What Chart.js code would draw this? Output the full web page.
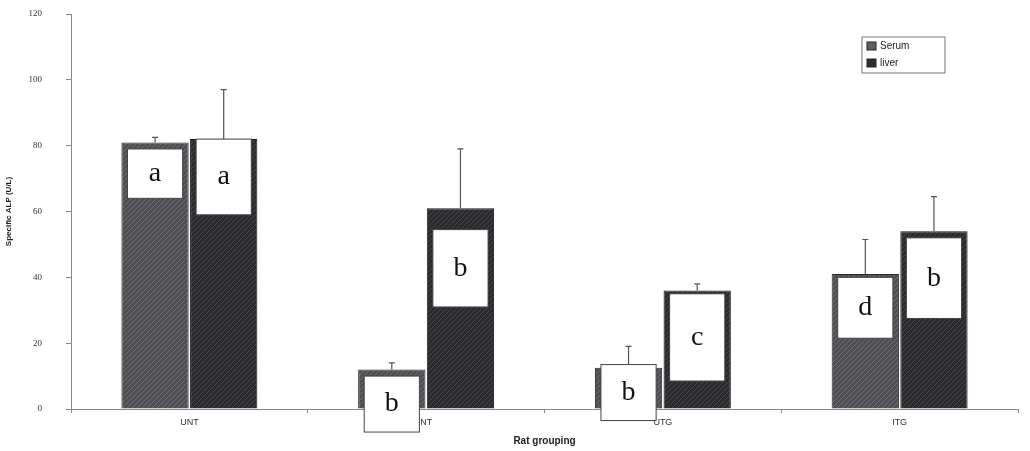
<!DOCTYPE html>
<html>
<head>
<meta charset="utf-8">
<script src="https://cdn.jsdelivr.net/npm/chart.js@4.4.1/dist/chart.umd.min.js"></script>
<style>
  html, body { margin: 0; padding: 0; background: #fff; }
  #wrap { width: 1030px; height: 451px; position: relative; }
</style>
</head>
<body>
<div id="wrap"><canvas id="ratChart"></canvas></div>
<script>
// Datos
const groups = ['UNT', 'NT', 'UTG', 'ITG'];
const serumValues = [81, 12, 12.5, 41];
const liverValues = [82, 61, 36, 54];
const serumErrors = [1.5, 2, 6.5, 10.5];
const liverErrors = [15, 18, 2, 10.5];
const yTicks = [0, 20, 40, 60, 80, 100, 120];

// Letras de significancia y su rango en unidades del eje
const serumLetters = ['a', 'b', 'b', 'd'];
const liverLetters = ['a', 'b', 'c', 'b'];
const serumBoxTop = [79, 10, 13.5, 40];
const serumBoxBottom = [64, -7, -3.5, 21.5];
const liverBoxTop = [82, 54.5, 35, 52];
const liverBoxBottom = [59, 31, 8.5, 27.5];

// textura rayada para imitar el escaneo
const makePattern = (base, streak) => {
    const c = document.createElement('canvas');
    c.width = 5; c.height = 5;
    const g = c.getContext('2d');
    g.fillStyle = base;
    g.fillRect(0, 0, 5, 5);
    g.strokeStyle = streak;
    g.lineWidth = 1;
    g.beginPath();
    g.moveTo(0, 5); g.lineTo(5, 0);
    g.stroke();
    return g.createPattern(c, 'repeat');
};
const serumFill = makePattern('#4e4e53', '#6e6e74');
const liverFill = makePattern('#2b2b2f', '#46464b');

const errorBarsPlugin = {
    id: 'errorBars',
    afterDatasetsDraw(chart) {
        const { ctx } = chart;
        const y = chart.scales.y;
        const errs = [serumErrors, liverErrors];
        chart.data.datasets.forEach((ds, i) => {
            chart.getDatasetMeta(i).data.forEach((bar, j) => {
                const top = y.getPixelForValue(ds.data[j] + errs[i][j]);
                ctx.save();
                ctx.strokeStyle = '#555';
                ctx.lineWidth = 1.2;
                ctx.beginPath();
                ctx.moveTo(bar.x, bar.y);
                ctx.lineTo(bar.x, top);
                ctx.moveTo(bar.x - 3, top);
                ctx.lineTo(bar.x + 3, top);
                ctx.stroke();
                ctx.restore();
            });
        });
    },
};

const letterBoxPlugin = {
    id: 'letterBoxes',
    afterDatasetsDraw(chart) {
        const { ctx } = chart;
        const y = chart.scales.y;
        const sets = [
            [serumLetters, serumBoxTop, serumBoxBottom],
            [liverLetters, liverBoxTop, liverBoxBottom],
        ];
        sets.forEach(([letters, tops, bottoms], i) => {
            chart.getDatasetMeta(i).data.forEach((bar, j) => {
                const w = bar.width * 0.82;
                const t = y.getPixelForValue(tops[j]);
                const b = y.getPixelForValue(bottoms[j]);
                ctx.save();
                ctx.fillStyle = '#fff';
                ctx.strokeStyle = '#444';
                ctx.lineWidth = 1;
                ctx.fillRect(bar.x - w / 2, t, w, b - t);
                ctx.strokeRect(bar.x - w / 2, t, w, b - t);
                ctx.fillStyle = '#111';
                ctx.font = '28px "Liberation Serif", "DejaVu Serif", serif';
                ctx.textAlign = 'center';
                ctx.textBaseline = 'middle';
                ctx.fillText(letters[j], bar.x, (t + b) / 2);
                ctx.restore();
            });
        });
    },
};

const legendBoxPlugin = {
    id: 'legendBox',
    afterDraw(chart) {
        const { ctx, chartArea } = chart;
        const x = chartArea.right - 156;
        const top = chartArea.top + 23;
        ctx.save();
        ctx.fillStyle = '#fff';
        ctx.strokeStyle = '#777';
        ctx.lineWidth = 1;
        ctx.fillRect(x, top, 83, 36);
        ctx.strokeRect(x, top, 83, 36);
        ctx.font = '10px "Liberation Sans", Arial, sans-serif';
        ctx.textBaseline = 'middle';
        chart.data.datasets.forEach((ds, i) => {
            const ly = top + 9 + i * 17;
            ctx.fillStyle = i === 0 ? '#5f5f63' : '#2e2e32';
            ctx.fillRect(x + 5, ly - 4, 9, 8);
            ctx.strokeStyle = '#222';
            ctx.strokeRect(x + 5, ly - 4, 9, 8);
            ctx.fillStyle = '#222';
            ctx.fillText(ds.label, x + 18, ly);
        });
        ctx.restore();
    },
};

const ctx = document.getElementById('ratChart').getContext('2d');
new Chart(ctx, {
    type: 'bar',
    data: {
        labels: groups,
        datasets: [
            {
                label: 'Serum',
                data: serumValues,
                backgroundColor: serumFill,
                borderColor: '#2a2a2a',
                borderWidth: 1,
            },
            {
                label: 'liver',
                data: liverValues,
                backgroundColor: liverFill,
                borderColor: '#1c1c1c',
                borderWidth: 1,
            },
        ],
    },
    options: {
        responsive: true,
        maintainAspectRatio: false,
        animation: false,
        categoryPercentage: 0.58,
        barPercentage: 0.98,
        layout: { padding: { top: 14, right: 12, left: 0, bottom: 0 } },
        scales: {
            x: {
                afterFit: (scale) => { scale.height = 42; },
                grid: { drawOnChartArea: false, tickLength: 4, color: '#888' },
                border: { color: '#888' },
                ticks: { color: '#333', font: { size: 9, family: 'Liberation Sans' }, padding: 4 },
                title: {
                    display: true,
                    text: 'Rat grouping',
                    color: '#222',
                    font: { size: 10, weight: 'bold', family: 'Liberation Sans' },
                    padding: { top: 0 },
                },
            },
            y: {
                min: 0,
                max: 120,
                afterFit: (scale) => {
                    scale.width = 71;
                    scale.paddingTop = 0;
                    scale.paddingBottom = 0;
                },
                afterBuildTicks: (scale) => { scale.ticks = yTicks.map((v) => ({ value: v })); },
                grid: { drawOnChartArea: false, tickLength: 5, color: '#888' },
                border: { color: '#888' },
                ticks: { color: '#333', font: { size: 9, family: 'Liberation Serif' }, padding: 24 },
                title: {
                    display: true,
                    text: 'Specific ALP (U/L)',
                    color: '#222',
                    font: { size: 8, weight: 'bold', family: 'Liberation Sans' },
                    padding: { bottom: 2 },
                },
            },
        },
        plugins: {
            legend: { display: false },
            tooltip: { enabled: false },
        },
    },
    plugins: [errorBarsPlugin, letterBoxPlugin, legendBoxPlugin],
});
</script>
</body>
</html>
